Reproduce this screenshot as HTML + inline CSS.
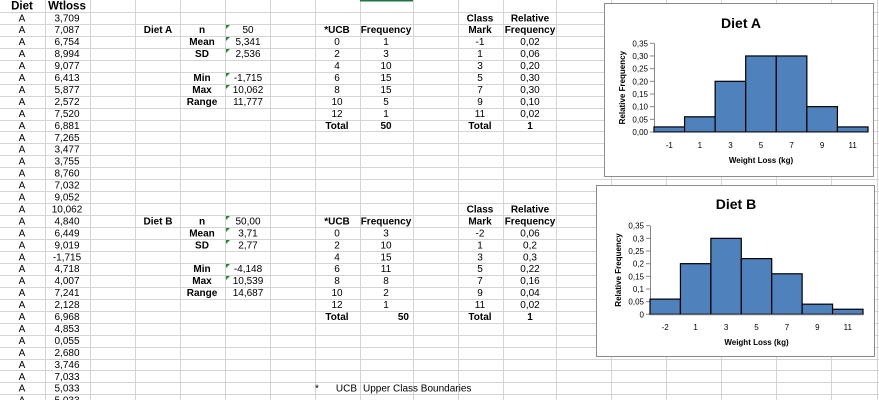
<!DOCTYPE html>
<html><head><meta charset="utf-8"><style>
body{margin:0;background:#fff;width:879px;height:400px;overflow:hidden}
svg{display:block;font-family:"Liberation Sans",Arial,sans-serif}
</style></head><body>
<svg id="s" width="879" height="400"></svg>
<script>
const aBins=["-1","1","3","5","7","9","11"];
const aRel=[0.02,0.06,0.20,0.30,0.30,0.10,0.02];
const aTicks=["0,00","0,05","0,10","0,15","0,20","0,25","0,30","0,35"];
const bBins=["-2","1","3","5","7","9","11"];
const bRel=[0.06,0.2,0.3,0.22,0.16,0.04,0.02];
const bTicks=["0","0,05","0,1","0,15","0,2","0,25","0,3","0,35"];
const tickVals=[0,0.05,0.1,0.15,0.2,0.25,0.3,0.35];
const wtloss=["3,709","7,087","6,754","8,994","9,077","6,413","5,877","2,572","7,520","6,881","7,265","3,477","3,755","8,760","7,032","9,052","10,062","4,840","6,449","9,019","-1,715","4,718","4,007","7,241","2,128","6,968","4,853","0,055","2,680","3,746","7,033","5,033","5,033"];

const S=document.getElementById('s');const NS="http://www.w3.org/2000/svg";
function el(t,a,p){const e=document.createElementNS(NS,t);for(const k in a)e.setAttribute(k,a[k]);(p||S).appendChild(e);return e;}
function tx(x,y,s,o){o=o||{};const e=el('text',{x:x,y:y,'font-size':o.fs||10,'text-anchor':o.a||'middle','font-weight':o.b?'bold':'normal',fill:o.c||'#000'},o.p);e.textContent=s;

return e;}
const RH=11.95;
// grid
const cols=[45,90,135,180,225,270,315,360,413,458,503,556,611,666,721,776,831,877];
const g=el('g',{stroke:'#d4d4d4','stroke-width':1});


cols.forEach(x=>el('line',{x1:x+.5,y1:0,x2:x+.5,y2:400},g));
for(let i=1;i<34;i++){const y=Math.round(i*RH)+.5;el('line',{x1:0,y1:y,x2:879,y2:y},g);}
el('line',{x1:360,y1:0.5,x2:413,y2:0.5,stroke:'#217346','stroke-width':2});
function ry(r){return r*RH+9.3;}
tx(22,ry(0),"Diet",{b:1,fs:11.5,n:'diet-header'});tx(67,ry(0),"Wtloss",{b:1,fs:11.5,n:'wtloss-header'});
wtloss.forEach((v,i)=>{tx(22,ry(i+1),"A",{n:'diet-cell'});tx(67,ry(i+1),v,{n:'wtloss-cell'});});
function tri(x,y){const t=el('path',{d:`M${x} ${y}h4l-4 4z`,fill:'#1e8c2e'});}
function block(r0,name,st,ucb,fr,ft,marks,rel){
 tx(158,ry(r0),name,{b:1,n:'diet-label'});
 const labs=[["n",0],["Mean",1],["SD",2],["Min",4],["Max",5],["Range",6]];
 labs.forEach((l,i)=>{tx(202,ry(r0+l[1]),l[0],{b:1,n:'stat-label'});tx(248,ry(r0+l[1]),st[i],{n:'stat-value'});if(i<5)tri(226,Math.round((r0+l[1])*RH)+1);});
 tx(480,ry(r0-1),"Class",{b:1,n:'class-header'});tx(530,ry(r0-1),"Relative",{b:1,n:'relative-header'});
 tx(337,ry(r0),"*UCB",{b:1,n:'ucb-header'});tx(386,ry(r0),"Frequency",{b:1,n:'frequency-header'});
 tx(480,ry(r0),"Mark",{b:1,n:'mark-header'});tx(530,ry(r0),"Frequency",{b:1,n:'relfreq-header'});
 for(let i=0;i<7;i++){tx(337,ry(r0+1+i),ucb[i],{n:'ucb-cell'});tx(386,ry(r0+1+i),fr[i],{n:'frequency-cell'});tx(480,ry(r0+1+i),marks[i],{n:'mark-cell'});tx(530,ry(r0+1+i),rel[i],{n:'relfreq-cell'});}
 tx(337,ry(r0+8),"Total",{b:1,n:'total-label'});
 if(ft[1])tx(409,ry(r0+8),ft[0],{b:1,a:'end',n:'total-value'});else tx(386,ry(r0+8),ft[0],{b:1,n:'total-value'});
 tx(480,ry(r0+8),"Total",{b:1,n:'total-label'});tx(530,ry(r0+8),"1",{b:1,n:'total-value'});
}
const ucb=["0","2","4","6","8","10","12"];
block(2,"Diet A",["50","5,341","2,536","-1,715","10,062","11,777"],ucb,["1","3","10","15","15","5","1"],["50",0],aBins,["0,02","0,06","0,20","0,30","0,30","0,10","0,02"]);
block(18,"Diet B",["50,00","3,71","2,77","-4,148","10,539","14,687"],ucb,["3","10","15","11","8","2","1"],["50",1],bBins,["0,06","0,2","0,3","0,22","0,16","0,04","0,02"]);
tx(317,ry(32),"*",{n:'footnote-star'});tx(357,ry(32),"UCB",{a:'end',n:'footnote-ucb'});tx(363,ry(32),"Upper Class Boundaries",{a:'start',n:'footnote-text'});

function chart(o){
 const cg=el('g',{});
 el('rect',{x:o.fx+.5,y:o.fy+.5,width:o.fw,height:o.fh,fill:'#fff',stroke:'#8c8c8c'},cg);
 const x0=o.px0,x1=o.px1,y0=o.py0,y1=o.py1,n=o.bins.length,bw=(x1-x0)/n;
 const ys=v=>y0-(v/0.35)*(y0-y1);
 tx(o.tx,o.ty,o.title,{b:1,fs:14,p:cg,n:'chart-title'});
 el('line',{x1:x0+.5,y1:y1,x2:x0+.5,y2:y0,stroke:'#888'},cg);
 tickVals.forEach((v,i)=>{const y=ys(v);el('line',{x1:x0-4,y1:y,x2:x0,y2:y,stroke:'#888'},cg);tx(x0-6,y+3,o.ticks[i],{a:'end',fs:8,p:cg,n:'y-tick-label'});});
 o.vals.forEach((v,i)=>{const r=el('rect',{x:x0+i*bw,y:ys(v),width:bw,height:y0-ys(v),fill:'#4f81bd',stroke:'#000','stroke-width':1.2},cg);
 
 
 tx(x0+(i+.5)*bw,o.xl,o.bins[i],{fs:8,p:cg,n:'x-tick-label'});});
 el('line',{x1:x0,y1:y0+.5,x2:x1,y2:y0+.5,stroke:'#888'},cg);
 tx((x0+x1)/2,o.xt,"Weight Loss (kg)",{b:1,fs:8,p:cg,n:'x-axis-title'});
 const yt=tx(0,0,"Relative Frequency",{b:1,fs:8,p:cg,n:'y-axis-title'});
 yt.setAttribute('transform',`translate(${o.ytx},${(y0+y1)/2}) rotate(-90)`);
}
chart({name:'diet-a-chart',fx:604,fy:3,fw:269,fh:173,px0:654,px1:868,py0:132,py1:43.3,tx:741,ty:28,title:"Diet A",bins:aBins,vals:aRel,ticks:aTicks,xl:148,xt:163,ytx:625});
chart({name:'diet-b-chart',fx:596,fy:185,fw:278,fh:171,px0:650,px1:863,py0:314.3,py1:225.7,tx:736,ty:209,title:"Diet B",bins:bBins,vals:bRel,ticks:bTicks,xl:330,xt:345,ytx:621});
</script>
</body></html>
